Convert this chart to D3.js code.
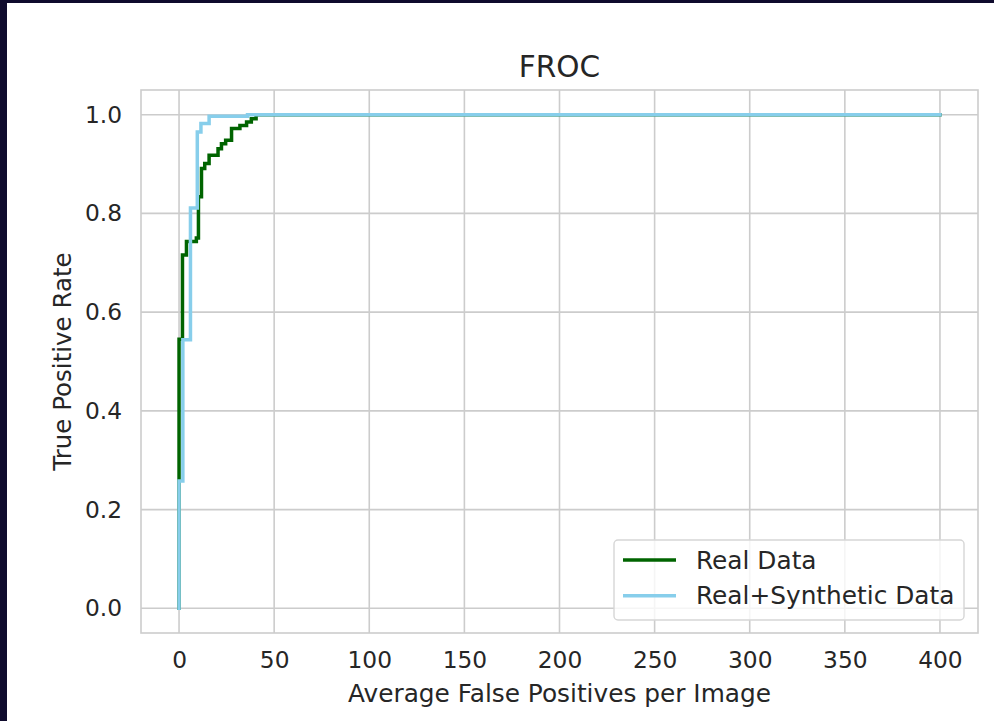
<!DOCTYPE html>
<html>
<head>
<meta charset="utf-8">
<script src="https://cdn.jsdelivr.net/npm/d3@7"></script>
<style>
  body { margin: 0; background: #0f0b2d; }
  svg { display: block; }
</style>
</head>
<body>
<div id="chart"></div>
<script>
// FROC curves, points are [avg false positives per image, true positive rate]
const realData = [
  [0, 0], [0, 0.258], [0, 0.545], [1.8, 0.716], [3.9, 0.743], [9.1, 0.75],
  [10.2, 0.834], [11.8, 0.891], [13.5, 0.901], [15.8, 0.918], [20.5, 0.931],
  [22.3, 0.941], [24.5, 0.948], [27.6, 0.972], [32, 0.978], [35.5, 0.985],
  [38, 0.992], [40.5, 1.0], [400, 1.0]
];
const synthData = [
  [0, 0], [0, 0.258], [2, 0.544], [6, 0.811], [9.6, 0.965], [11.5, 0.982],
  [15.8, 0.997], [36, 1.0], [400, 1.0]
];
const seriesNames = ["Real Data", "Real+Synthetic Data"];
const seriesColors = ["#006400", "#87ceeb"];
const xTicks = [0, 50, 100, 150, 200, 250, 300, 350, 400];
const yTicks = [0.0, 0.2, 0.4, 0.6, 0.8, 1.0];

const width = 994, height = 721;
const plotLeft = 141, plotRight = 978, plotTop = 90, plotBottom = 633;
const textColor = "#262626";
const gridColor = "#cccccc";

const svg = d3.select("#chart")
  .append("svg")
  .attr("width", width)
  .attr("height", height)
  .style("font-family", "'DejaVu Sans', sans-serif");

// dark frame at top/left, white figure
svg.append("rect").attr("width", width).attr("height", height).attr("fill", "#0f0b2d");
svg.append("rect").attr("x", 7).attr("y", 3).attr("width", width - 7).attr("height", height - 3).attr("fill", "#ffffff");

const x = d3.scaleLinear().domain([-20, 420]).range([plotLeft, plotRight]);
const y = d3.scaleLinear().domain([-0.05, 1.05]).range([plotBottom, plotTop]);

// grid
const g = svg.append("g");
g.selectAll("line.xgrid")
  .data(xTicks)
  .enter()
  .append("line")
  .attr("x1", (d) => x(d)).attr("x2", (d) => x(d))
  .attr("y1", plotTop).attr("y2", plotBottom)
  .attr("stroke", gridColor).attr("stroke-width", 1.6);
g.selectAll("line.ygrid")
  .data(yTicks)
  .enter()
  .append("line")
  .attr("y1", (d) => y(d)).attr("y2", (d) => y(d))
  .attr("x1", plotLeft).attr("x2", plotRight)
  .attr("stroke", gridColor).attr("stroke-width", 1.6);

// axes (ticks hidden, only labels, seaborn whitegrid look)
const xAxis = d3.axisBottom(x).tickValues(xTicks).tickSize(0).tickPadding(18.5).tickFormat(d3.format("d"));
const yAxis = d3.axisLeft(y).tickValues(yTicks).tickSize(0).tickPadding(19).tickFormat(d3.format(".1f"));

const gx = svg.append("g").attr("transform", `translate(0, ${plotBottom})`).call(xAxis);
const gy = svg.append("g").attr("transform", `translate(${plotLeft}, 0)`).call(yAxis);
[gx, gy].forEach((a) => {
  a.select(".domain").remove();
  a.selectAll("text")
    .attr("fill", textColor)
    .style("font-size", "23.3px")
    .style("font-family", "'DejaVu Sans', sans-serif");
});

// curves
const line = d3.line()
  .x((d) => x(d[0]))
  .y((d) => y(d[1]))
  .curve(d3.curveStepAfter);

[realData, synthData].forEach((data, i) => {
  svg.append("path")
    .datum(data)
    .attr("d", line)
    .attr("fill", "none")
    .attr("stroke", seriesColors[i])
    .attr("stroke-width", 3.5)
    .attr("stroke-linejoin", "miter")
    .attr("stroke-linecap", "square");
});

// frame
svg.append("rect")
  .attr("x", plotLeft).attr("y", plotTop)
  .attr("width", plotRight - plotLeft).attr("height", plotBottom - plotTop)
  .attr("fill", "none")
  .attr("stroke", gridColor)
  .attr("stroke-width", 1.6);

// title and labels
svg.append("text")
  .attr("x", (plotLeft + plotRight) / 2)
  .attr("y", 77)
  .attr("text-anchor", "middle")
  .attr("fill", textColor)
  .style("font-size", "29.5px")
  .text("FROC");

svg.append("text")
  .attr("x", (plotLeft + plotRight) / 2)
  .attr("y", 702)
  .attr("text-anchor", "middle")
  .attr("fill", textColor)
  .style("font-size", "24.8px")
  .text("Average False Positives per Image");

svg.append("text")
  .attr("transform", `translate(70.7, ${(plotTop + plotBottom) / 2}) rotate(-90)`)
  .attr("text-anchor", "middle")
  .attr("fill", textColor)
  .style("font-size", "24.5px")
  .text("True Positive Rate");

// legend
const legend = svg.append("g");
legend.append("rect")
  .attr("x", 614).attr("y", 540)
  .attr("width", 350).attr("height", 80)
  .attr("rx", 4)
  .attr("fill", "#ffffff").attr("fill-opacity", 0.8)
  .attr("stroke", "#d6d6d6").attr("stroke-width", 1.4);

seriesNames.forEach((name, i) => {
  const ly = 560 + i * 35.7;
  legend.append("line")
    .attr("x1", 623).attr("x2", 676)
    .attr("y1", ly).attr("y2", ly)
    .attr("stroke", seriesColors[i])
    .attr("stroke-width", 3.5);
  legend.append("text")
    .attr("x", 696)
    .attr("y", ly)
    .attr("dy", "0.35em")
    .attr("fill", textColor)
    .style("font-size", "24.8px")
    .text(name);
});
</script>
</body>
</html>
